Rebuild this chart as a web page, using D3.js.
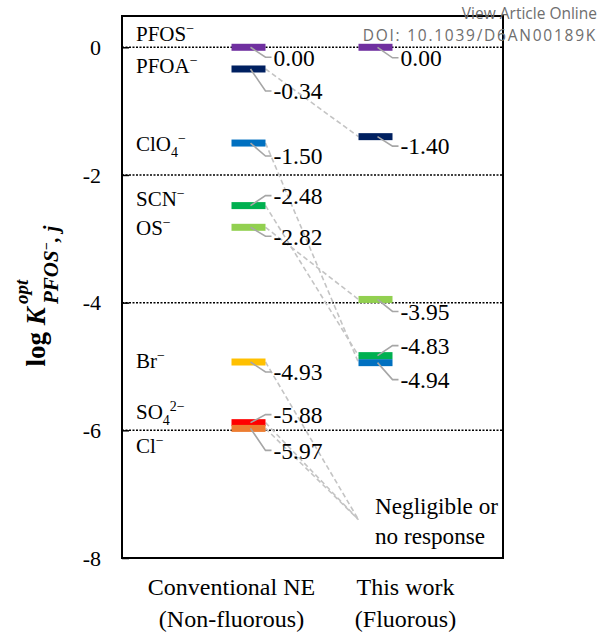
<!DOCTYPE html>
<html>
<head>
<meta charset="utf-8">
<script src="https://cdn.jsdelivr.net/npm/d3@7"></script>
<style>
  body { margin: 0; background: #fff; }
  svg { display: block; }
</style>
</head>
<body>
<div id="chart"></div>
<script>
// ions, in the order they sit in the conventional column
const ions = [
  [["PFOS", ""], ["\u2212", "sup"]],
  [["PFOA", ""], ["\u2212", "sup"]],
  [["ClO", ""], ["4", "sub"], ["\u2212", "sup"]],
  [["SCN", ""], ["\u2212", "sup"]],
  [["OS", ""], ["\u2212", "sup"]],
  [["Br", ""], ["\u2212", "sup"]],
  [["SO", ""], ["4", "sub"], ["2\u2212", "sup"]],
  [["Cl", ""], ["\u2212", "sup"]]
];
const ionColors = ["#7030A0", "#002060", "#0070C0", "#00B050", "#92D050", "#FFC000", "#FF0000", "#ED7D31"];
const conventional = [0.00, -0.34, -1.50, -2.48, -2.82, -4.93, -5.88, -5.97];
// null = negligible or no response
const thisWork = [0.00, -1.40, -4.94, -4.83, -3.95, null, null, null];
const columns = ["Conventional NE", "This work"];
const columnSub = ["(Non-fluorous)", "(Fluorous)"];
const yTicks = [0, -2, -4, -6, -8];
const gridLevels = [0, -2, -4, -6];
const negligibleLevel = -7.4;

// label nudges (px) so the value labels don't collide
const convLabelShift = [10, 22, 13, -10, 9, 10, -8, 22];
const workLabelShift = [10.5, 9.5, 17, -10, 12];
const ionLabelShift = [-6, 4, 8, 0, 8, 6, -4, 25];

const width = 599, height = 632;
const frame = {left: 122, right: 503, top: 16, bottom: 558};
const serif = "'Liberation Serif', 'Times New Roman', serif";

const svg = d3.select("#chart").append("svg")
  .attr("width", width)
  .attr("height", height)
  .attr("font-family", serif);

const y = d3.scaleLinear().domain([-8, 0.49]).range([frame.bottom, frame.top]);
const x = d3.scalePoint().domain(columns).range([248.5, 375.5]);
const barW = 34, barH = 7;

function rich(sel, parts) {
  let cur = 0;
  parts.forEach(([t, kind]) => {
    const target = kind === "sup" ? -8 : kind === "sub" ? 6 : 0;
    sel.append("tspan")
      .attr("dy", target - cur)
      .attr("font-size", kind ? 14 : null)
      .text(t);
    cur = target;
  });
}

// dotted reference lines
svg.append("g").selectAll("line")
  .data(gridLevels)
  .join("line")
  .attr("x1", frame.left).attr("x2", frame.right)
  .attr("y1", d => y(d)).attr("y2", d => y(d))
  .attr("stroke", "#000")
  .attr("stroke-width", 1.5)
  .attr("stroke-dasharray", "2,1.5");

// frame
svg.append("rect")
  .attr("x", frame.left).attr("y", frame.top)
  .attr("width", frame.right - frame.left)
  .attr("height", frame.bottom - frame.top)
  .attr("fill", "none")
  .attr("stroke", "#000")
  .attr("stroke-width", 2);

// y axis
const yAxis = svg.append("g")
  .attr("transform", `translate(${frame.left},0)`)
  .call(d3.axisLeft(y).tickValues(yTicks).tickSize(-7).tickPadding(21).tickFormat(d => String(d)));
yAxis.select(".domain").remove();
yAxis.selectAll(".tick line").attr("stroke-width", 1.5);
yAxis.attr("font-family", serif);
yAxis.selectAll("text")
  .attr("font-size", 22)
  .attr("fill", "#000");

// axis title: log K with stacked sup/sub
const title = svg.append("g");
const tMain = title.append("text")
  .attr("font-size", 27)
  .attr("font-weight", "bold");
tMain.append("tspan").text("log ");
tMain.append("tspan").attr("font-style", "italic").text("K");
const mainW = tMain.node().getComputedTextLength();
title.append("text")
  .attr("x", mainW + 3).attr("y", -17)
  .attr("font-size", 19).attr("font-weight", "bold").attr("font-style", "italic")
  .text("opt");
const tSub = title.append("text")
  .attr("x", mainW + 3).attr("y", 13)
  .attr("font-size", 21).attr("font-weight", "bold").attr("font-style", "italic");
tSub.append("tspan").text("PFOS");
tSub.append("tspan").attr("dy", -7).attr("font-size", 14).text("\u2212");
tSub.append("tspan").attr("dy", 7).text(", j");
const subW = tSub.node().getComputedTextLength();
const totalW = mainW + 3 + subW;
title.attr("transform", `translate(45,${296 + totalW / 2}) rotate(-90)`);

// connectors between the two columns
const links = conventional.map((v, i) => ({
  from: v,
  to: thisWork[i] === null ? negligibleLevel : thisWork[i],
  show: i > 0
})).filter(d => d.show);

svg.append("g").selectAll("line")
  .data(links)
  .join("line")
  .attr("x1", x(columns[0]) + barW / 2)
  .attr("y1", d => y(d.from))
  .attr("x2", x(columns[1]) - barW / 2)
  .attr("y2", d => y(d.to))
  .attr("stroke", "#c4c4c4")
  .attr("stroke-width", 1.6)
  .attr("stroke-dasharray", "5,3");

// marks for each column
function column(values, shifts, colName) {
  const cx = x(colName);
  const pts = values.map((v, i) => ({v, c: ionColors[i]})).filter(d => d.v !== null);
  const g = svg.append("g");
  g.selectAll("rect")
    .data(pts)
    .join("rect")
    .attr("x", cx - barW / 2)
    .attr("y", d => y(d.v) - barH / 2)
    .attr("width", barW)
    .attr("height", barH)
    .attr("fill", d => d.c);
  g.selectAll("path")
    .data(pts)
    .join("path")
    .attr("d", (d, i) => {
      const y0 = y(d.v), y1 = y0 + shifts[i];
      const x0 = cx + 2, x1 = cx + barW / 2, x2 = x1 + 6;
      return `M${x0},${y0}L${x1},${y1}L${x2},${y1}`;
    })
    .attr("fill", "none")
    .attr("stroke", "#a6a6a6")
    .attr("stroke-width", 1.6);
  g.selectAll("text")
    .data(pts)
    .join("text")
    .attr("x", cx + barW / 2 + 8)
    .attr("y", (d, i) => y(d.v) + shifts[i])
    .attr("dy", "0.35em")
    .attr("font-size", 23.5)
    .text(d => d.v.toFixed(2));
}
column(conventional, convLabelShift, columns[0]);
column(thisWork, workLabelShift, columns[1]);

// ion names
svg.append("g").selectAll("text")
  .data(ions)
  .join("text")
  .attr("x", 136)
  .attr("y", (d, i) => y(conventional[i]) + ionLabelShift[i])
  .attr("font-size", 21)
  .each(function(d) { rich(d3.select(this), d); });

// negligible note
const neg = svg.append("text")
  .attr("x", x(columns[1])).attr("y", y(negligibleLevel))
  .attr("font-size", 23.2);
neg.append("tspan").attr("x", 375).attr("dy", -6).text("Negligible or");
neg.append("tspan").attr("x", 375).attr("dy", 30).text("no response");

// column labels
const catOffset = [-17, 30];
const cat = svg.append("g").selectAll("text")
  .data(columns)
  .join("text")
  .attr("text-anchor", "middle")
  .attr("font-size", 24)
  .attr("y", 595);
cat.append("tspan").attr("x", (d, i) => x(d) + catOffset[i]).text(d => d);
cat.append("tspan").attr("x", (d, i) => x(d) + catOffset[i]).attr("dy", 32).text((d, i) => columnSub[i]);

// publisher stamp
const stamp = svg.append("g")
  .attr("font-family", "'Open Sans', 'Noto Sans', sans-serif")
  .attr("font-size", 15.5)
  .attr("fill", "#6e6e6e")
  .attr("text-anchor", "end");
stamp.append("text").attr("x", 597).attr("y", 19).text("View Article Online");
stamp.append("text").attr("x", 597).attr("y", 41).attr("letter-spacing", 1.75).text("DOI: 10.1039/D6AN00189K");
</script>
</body>
</html>
